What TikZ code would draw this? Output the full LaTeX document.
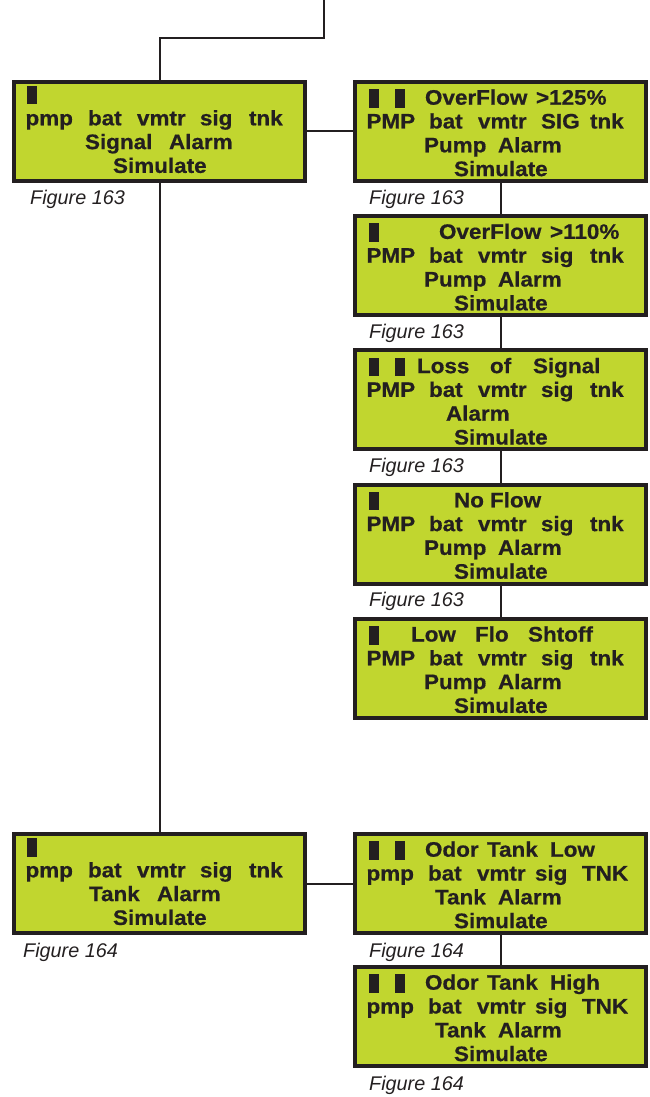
\documentclass[tikz,border=0pt]{standalone}
\usepackage{fontspec}
\setmainfont[BoldFeatures={FakeStretch=1.07,FakeBold=0.6}]{Liberation Sans}

\definecolor{lcdfill}{RGB}{193,214,47}
\definecolor{lcdline}{RGB}{35,31,32}

% one text cell of the display, x in pt from the left of the text
\newcommand{\lcdat}[2]{\rlap{\hspace*{#1pt}#2}}
\newcommand{\blk}{\rule[-3pt]{10pt}{18.5pt}}
\newcommand{\lcd}[5][22.7]{\parbox[c][99pt][t]{271pt}{\rule{0pt}{#1pt}\strut#2\\\strut#3\\\strut#4\\#5}}
\newcommand{\stat}[5]{\lcdat{1.5}{#1}\lcdat{64}{#2}\lcdat{113}{#3}\lcdat{176}{#4}\lcdat{225}{#5}}
\newcommand{\simul}{\lcdat{89}{Simulate}}

\tikzset{
  lcd/.style={draw=lcdline, line width=4pt, fill=lcdfill, text=lcdline,
    inner xsep=10pt, inner ysep=0pt, minimum width=291pt, minimum height=99pt,
    font=\fontsize{21}{23.8}\selectfont\bfseries},
  fig/.style={anchor=base west, inner sep=0pt, text=lcdline,
    font=\fontsize{19.8}{22}\selectfont\itshape},
  wire/.style={draw=lcdline, line width=2pt}
}

\begin{document}
\begin{tikzpicture}[x=1pt, y=-1pt]
\useasboundingbox (0,0) rectangle (649,1097);

% left column
\node[lcd] (sig) at (159.5,131.5) {\lcd[19.5]{\lcdat{3}{\blk}}{\stat{pmp}{bat}{vmtr}{sig}{tnk}}{\lcdat{61}{Signal}\lcdat{145}{Alarm}}{\simul}};
\node[lcd] (tank) at (159.5,883.5) {\lcd[19.5]{\lcdat{3}{\blk}}{\stat{pmp}{bat}{vmtr}{sig}{tnk}}{\lcdat{65}{Tank}\lcdat{133}{Alarm}}{\simul}};

% signal alarms
\node[lcd] (over125) at (500.5,131.5) {\lcd{\lcdat{4}{\blk}\lcdat{30}{\blk}\lcdat{60}{OverFlow}\lcdat{171}{>125\%}}{\stat{PMP}{bat}{vmtr}{SIG}{tnk}}{\lcdat{59}{Pump}\lcdat{133}{Alarm}}{\simul}};
\node[lcd] (over110) at (500.5,265.7) {\lcd{\lcdat{4}{\blk}\lcdat{74}{OverFlow}\lcdat{185}{>110\%}}{\stat{PMP}{bat}{vmtr}{sig}{tnk}}{\lcdat{59}{Pump}\lcdat{133}{Alarm}}{\simul}};
\node[lcd] (loss) at (500.5,399.9) {\lcd{\lcdat{4}{\blk}\lcdat{30}{\blk}\lcdat{52}{Loss}\lcdat{125}{of}\lcdat{168}{Signal}}{\stat{PMP}{bat}{vmtr}{sig}{tnk}}{\lcdat{81}{Alarm}}{\simul}};
\node[lcd] (noflow) at (500.5,534.1) {\lcd{\lcdat{4}{\blk}\lcdat{89}{No}\lcdat{125}{Flow}}{\stat{PMP}{bat}{vmtr}{sig}{tnk}}{\lcdat{59}{Pump}\lcdat{133}{Alarm}}{\simul}};
\node[lcd] (lowflo) at (500.5,668.3) {\lcd{\lcdat{4}{\blk}\lcdat{46}{Low}\lcdat{110}{Flo}\lcdat{163}{Shtoff}}{\stat{PMP}{bat}{vmtr}{sig}{tnk}}{\lcdat{59}{Pump}\lcdat{133}{Alarm}}{\simul}};

% tank alarms
\node[lcd] (tklow) at (500.5,883.5) {\lcd{\lcdat{4}{\blk}\lcdat{30}{\blk}\lcdat{60}{Odor}\lcdat{122}{Tank}\lcdat{185}{Low}}{\lcdat{1.5}{pmp}\lcdat{63}{bat}\lcdat{112}{vmtr}\lcdat{170}{sig}\lcdat{217}{TNK}}{\lcdat{70}{Tank}\lcdat{133}{Alarm}}{\simul}};
\node[lcd] (tkhigh) at (500.5,1016.5) {\lcd{\lcdat{4}{\blk}\lcdat{30}{\blk}\lcdat{60}{Odor}\lcdat{122}{Tank}\lcdat{185}{High}}{\lcdat{1.5}{pmp}\lcdat{63}{bat}\lcdat{112}{vmtr}\lcdat{170}{sig}\lcdat{217}{TNK}}{\lcdat{70}{Tank}\lcdat{133}{Alarm}}{\simul}};

% figure references
\node[fig] (f1) at (30,204) {Figure 163};
\node[fig] (f2) at (369,204) {Figure 163};
\node[fig] (f3) at (369,338) {Figure 163};
\node[fig] (f4) at (369,472) {Figure 163};
\node[fig] (f5) at (369,606) {Figure 163};
\node[fig] (f6) at (23,957) {Figure 164};
\node[fig] (f7) at (369,957) {Figure 164};
\node[fig] (f8) at (369,1090) {Figure 164};

% connectors
\coordinate (in) at (324,0);
\coordinate (bend) at (324,38);
\draw[wire] (in) -- (bend) -| (sig.north);
\draw[wire] (sig.south) -- (tank.north);
\draw[wire] (sig.east) -- (over125.west);
\draw[wire] (over125.south) -- (over110.north);
\draw[wire] (over110.south) -- (loss.north);
\draw[wire] (loss.south) -- (noflow.north);
\draw[wire] (noflow.south) -- (lowflo.north);
\draw[wire] (tank.east) -- (tklow.west);
\draw[wire] (tklow.south) -- (tkhigh.north);
\end{tikzpicture}
\end{document}
